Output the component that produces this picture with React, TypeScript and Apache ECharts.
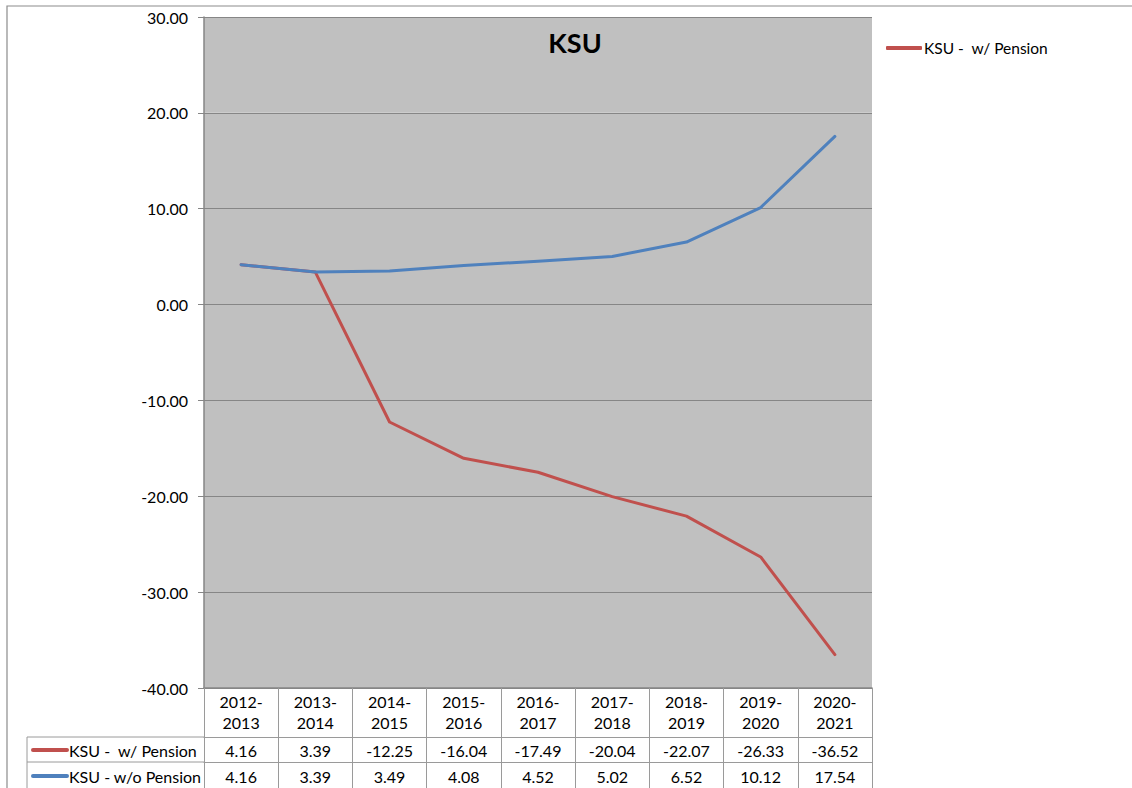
import React, { useEffect, useRef } from "react";
import * as echarts from "echarts";

const title = "KSU";
const categories = [
  "2012-2013",
  "2013-2014",
  "2014-2015",
  "2015-2016",
  "2016-2017",
  "2017-2018",
  "2018-2019",
  "2019-2020",
  "2020-2021",
];
const seriesNames = ["KSU -  w/ Pension", "KSU - w/o Pension"];
const withPension = [4.16, 3.39, -12.25, -16.04, -17.49, -20.04, -22.07, -26.33, -36.52];
const withoutPension = [4.16, 3.39, 3.49, 4.08, 4.52, 5.02, 6.52, 10.12, 17.54];
const yMin = -40;
const yMax = 30;
const yStep = 10;

const colors = ["#C0504D", "#4F81BD"];
const FONT = "Lato, 'Open Sans', sans-serif";
const GRID_LINE = "#868686";
const TABLE_LINE = "#9a9a9a";

export default function App() {
  const ref = useRef<HTMLDivElement>(null);
  useEffect(() => {
    if (!ref.current) return;
    const chart = echarts.init(ref.current, null, { renderer: "svg" });
    const textBase = { fontFamily: FONT, fontSize: 16, color: "#000" };
    chart.setOption({
      animation: false,
      textStyle: { fontFamily: FONT },
      title: {
        text: title,
        left: 570,
        textAlign: "center",
        top: 24,
        textStyle: { fontFamily: FONT, fontSize: 27, fontWeight: "bold", color: "#000" },
      },
      legend: {
        data: [seriesNames[0]],
        left: 886,
        top: 40,
        padding: 0,
        orient: "vertical",
        itemWidth: 36,
        itemHeight: 4,
        icon: "roundRect",
        selectedMode: false,
        textStyle: { ...textBase, fontSize: 15.5, padding: [0, 0, 0, -3] },
      },
      grid: { left: 204, top: 17, right: 260, bottom: 100, containLabel: false },
      xAxis: [
        {
          type: "category",
          data: categories,
          position: "bottom",
          boundaryGap: true,
          axisLine: { show: true, onZero: false, lineStyle: { color: GRID_LINE, width: 1.5 } },
          axisTick: { show: true, length: 120, inside: false, lineStyle: { color: TABLE_LINE } },
          axisLabel: {
            interval: 0,
            margin: 3,
            ...textBase,
            lineHeight: 21,
            formatter: (v: string) => v.replace("-", "-\n"),
          },
          splitLine: { show: false },
        },
        {
          type: "category",
          data: categories,
          position: "bottom",
          offset: 49,
          gridIndex: 0,
          axisLine: { show: true, onZero: false, lineStyle: { color: TABLE_LINE } },
          axisTick: { show: false },
          axisLabel: {
            interval: 0,
            margin: 5,
            ...textBase,
            lineHeight: 16,
            formatter: (_v: string, i: number) => withPension[i].toFixed(2),
          },
        },
        {
          type: "category",
          data: categories,
          position: "bottom",
          offset: 74,
          gridIndex: 0,
          axisLine: { show: true, onZero: false, lineStyle: { color: TABLE_LINE } },
          axisTick: { show: false },
          axisLabel: {
            interval: 0,
            margin: 6,
            ...textBase,
            lineHeight: 16,
            formatter: (_v: string, i: number) => withoutPension[i].toFixed(2),
          },
        },
      ],
      yAxis: {
        type: "value",
        min: yMin,
        max: yMax,
        interval: yStep,
        axisLine: { show: true, lineStyle: { color: GRID_LINE, width: 1.5 } },
        axisTick: { show: true, length: 6, lineStyle: { color: GRID_LINE } },
        axisLabel: {
          margin: 16,
          ...textBase,
          formatter: (v: number) => v.toFixed(2),
        },
        splitLine: { show: true, lineStyle: { color: GRID_LINE, width: 1 } },
        splitArea: { show: true, areaStyle: { color: ["#c0c0c0"] } },
      },
      series: [
        {
          name: seriesNames[0],
          type: "line",
          data: withPension,
          xAxisIndex: 0,
          symbol: "none",
          lineStyle: { color: colors[0], width: 3, cap: "round", join: "round" },
          itemStyle: { color: colors[0] },
        },
        {
          name: seriesNames[1],
          type: "line",
          data: withoutPension,
          xAxisIndex: 0,
          symbol: "none",
          lineStyle: { color: colors[1], width: 3, cap: "round", join: "round" },
          itemStyle: { color: colors[1] },
        },
      ],
      graphic: [
        {
          type: "polyline",
          silent: true,
          shape: { points: [[7, 800], [7, 6], [1140, 6]] },
          style: { stroke: "#8c8c8c", lineWidth: 1.2, fill: "none" },
        },
        {
          type: "line",
          silent: true,
          shape: { x1: 27, y1: 737, x2: 204, y2: 737 },
          style: { stroke: TABLE_LINE, lineWidth: 1 },
        },
        {
          type: "line",
          silent: true,
          shape: { x1: 27, y1: 762, x2: 204, y2: 762 },
          style: { stroke: TABLE_LINE, lineWidth: 1 },
        },
        {
          type: "line",
          silent: true,
          shape: { x1: 27, y1: 737, x2: 27, y2: 800 },
          style: { stroke: TABLE_LINE, lineWidth: 1 },
        },
        ...seriesNames.flatMap((name, i) => [
          {
            type: "line",
            silent: true,
            shape: { x1: 33, y1: 750 + i * 26, x2: 67, y2: 750 + i * 26 },
            style: { stroke: colors[i], lineWidth: 4, lineCap: "round" },
          },
          {
            type: "text",
            silent: true,
            x: 69,
            y: 750 + i * 26,
            style: {
              text: name,
              font: `16px ${FONT}`,
              fill: "#000",
              verticalAlign: "middle",
            },
          },
        ]),
      ],
    });
    return () => chart.dispose();
  }, []);
  return (
    <div
      ref={ref}
      style={{ position: "absolute", left: 0, top: 0, width: 1132, height: 788, background: "#fff" }}
    />
  );
}
